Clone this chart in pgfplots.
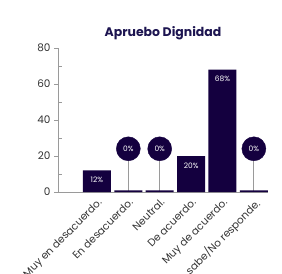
\documentclass[border=0pt]{standalone}
\usepackage{pgfplots}
\pgfplotsset{compat=1.18}
\usepackage{fontspec}
\setmainfont{Poppins}
\definecolor{barc}{HTML}{14003F}
\definecolor{titc}{HTML}{1C1450}
\definecolor{axc}{HTML}{9A9A9A}
\begin{document}
\begin{tikzpicture}
\begin{axis}[
  scale only axis, width=210bp, height=144bp,
  xmin=-1.24, xmax=5.45, ymin=0, ymax=80,
  axis lines*=left,
  axis line style={axc, line width=1pt},
  /pgf/number format/assume math mode=true,
  ytick={0,20,40,60,80},
  minor ytick={10,30,50,70},
  tick align=outside,
  major tick length=4bp,
  minor tick length=-4bp,
  tick style={axc, line width=0.8pt},
  x tick style={draw=none},
  xtick={0,1,2,3,4,5},
  xticklabels={Muy en desacuerdo., En desacuerdo., Neutral., De acuerdo., Muy de acuerdo., No sabe/No responde.},
  xticklabel style={rotate=45, anchor=north east, font=\fontsize{10.5}{12}\selectfont, color=black!80, inner sep=1pt},
  yticklabel style={font=\fontsize{10.5}{12}\selectfont, color=black!80},
  title={Apruebo Dignidad},
  title style={font=\fontsize{12.5}{15}\selectfont\bfseries, color=titc, yshift=-1bp},
  clip=false,
]
\coordinate (ll) at (rel axis cs:0,0);
\addplot[ycomb, axc, line width=0.8pt, mark=none] coordinates {(1,24)(2,24)(5,24)};
\addplot[ybar, bar width=28bp, bar shift=0pt, fill=barc, draw=none] coordinates {(1,0.9)(2,0.9)(5,0.9)};
\addplot[ybar, bar width=28bp, bar shift=0pt, fill=barc, draw=none,
  point meta=explicit symbolic,
  nodes near coords,
  every node near coord/.append style={anchor=north, yshift=-3bp, color=white, font=\fontsize{7.5}{9}\selectfont}]
  coordinates {(0,12)[12\%] (3,20)[20\%] (4,68)[68\%]};
\addplot[only marks, mark=*, mark size=12bp, mark options={fill=barc, draw=barc},
  point meta=explicit symbolic,
  nodes near coords,
  every node near coord/.append style={anchor=center, color=white, font=\fontsize{7.5}{9}\selectfont}]
  coordinates {(1,24)[0\%] (2,24)[0\%] (5,24)[0\%]};
\end{axis}
\pgfresetboundingbox
\path[use as bounding box] ([shift={(-58bp,-82bp)}]ll) rectangle ([shift={(224bp,192bp)}]ll);
\end{tikzpicture}
\end{document}
